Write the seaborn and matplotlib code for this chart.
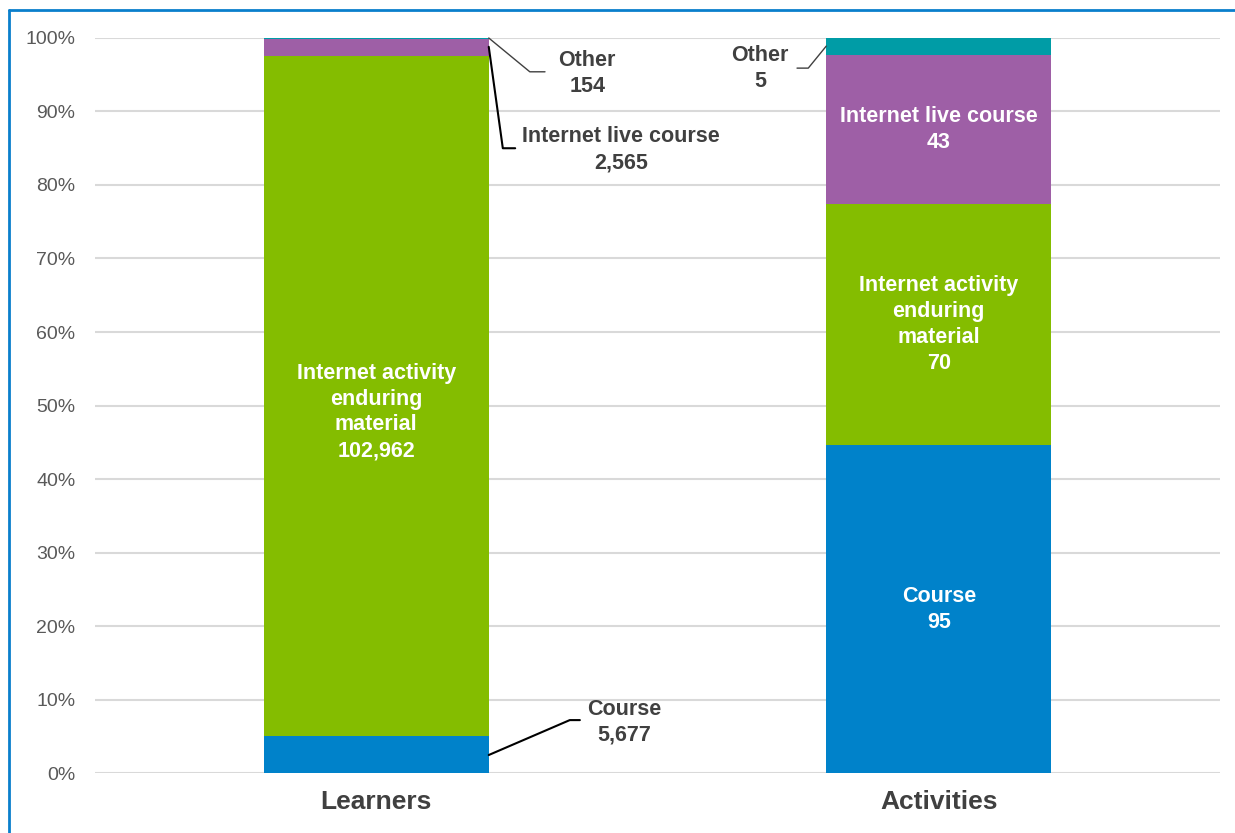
import numpy as np
import pandas as pd
import matplotlib
matplotlib.use('Agg')
import matplotlib.pyplot as plt
import seaborn as sns
from matplotlib.lines import Line2D

# data
groups = ['Learners', 'Activities']
segments = ['Course', 'Internet activity\nenduring\nmaterial', 'Internet live course', 'Other']
learners = [5677, 102962, 2565, 154]
activities = [95, 70, 43, 5]
colors = ['#0082CA', '#84BD00', '#9E5FA6', '#009CA6']

counts = pd.DataFrame({'Learners': learners, 'Activities': activities}, index=segments)
pct = counts / counts.sum() * 100
cum = pct.cumsum()

sns.set_style('white')
plt.rcParams['font.family'] = ['Liberation Sans', 'DejaVu Sans']

fig = plt.figure(figsize=(12.35, 8.33), dpi=100)
ax = fig.add_axes([0.0769, 0.072, 0.911, 0.8824])

# stacked bars: draw cumulative totals from the top segment down
for i in reversed(range(len(segments))):
    sns.barplot(x=groups, y=cum.iloc[i].values, color=colors[i], width=0.4,
                saturation=1, ax=ax, zorder=3, linewidth=0)

ax.set_xlim(-0.5, 1.5)
ax.set_ylim(0, 100)
ax.set_yticks(np.arange(0, 101, 10))
ax.set_yticklabels([f'{v}%' for v in range(0, 101, 10)], fontsize=14, color='#595959')
ax.tick_params(axis='y', length=0, pad=14)
ax.tick_params(axis='x', length=0, pad=12)
for lab in ax.get_xticklabels():
    lab.set_fontsize(19)
    lab.set_fontweight('bold')
    lab.set_color('#404040')
ax.grid(axis='y', color='#D9D9D9', linewidth=1.5, zorder=0)
ax.set_axisbelow(True)
for s in ax.spines.values():
    s.set_visible(False)
ax.set_xlabel('')
ax.set_ylabel('')

def fmt(v):
    return f'{v:,}'

fs = 15.5
ls = 1.3

# labels inside bars
mid = cum - pct / 2
inside = [('Learners', 1), ('Activities', 0), ('Activities', 1), ('Activities', 2)]
for g, i in inside:
    x = groups.index(g)
    y = mid[g].iloc[i]
    if g == 'Learners':
        y -= 2.2
    ax.text(x, y, segments[i] + '\n' + fmt(counts[g].iloc[i]),
            ha='center', va='center', color='white', fontsize=fs,
            fontweight='bold', linespacing=ls, zorder=5)

dark = '#404040'
w = 0.2

# Learners - Other
ax.plot([w, 0.273, 0.30], [100, 95.4, 95.4], color='#404040', lw=1, zorder=4, clip_on=False)
ax.text(0.375, 95.2, 'Other\n' + fmt(learners[3]), ha='center', va='center',
        color=dark, fontsize=fs, fontweight='bold', linespacing=ls)
# Learners - Internet live course
ax.plot([w, 0.225, 0.247], [98.8, 85.0, 85.0], color='black', lw=1.5, zorder=4)
ax.text(0.435, 84.8, 'Internet live course\n' + fmt(learners[2]), ha='center', va='center',
        color=dark, fontsize=fs, fontweight='bold', linespacing=ls)
# Learners - Course
ax.plot([w, 0.344, 0.362], [2.45, 7.2, 7.2], color='black', lw=1.5, zorder=4)
ax.text(0.44, 6.9, 'Course\n' + fmt(learners[0]), ha='center', va='center',
        color=dark, fontsize=fs, fontweight='bold', linespacing=ls)
# Activities - Other
ax.plot([0.748, 0.768, 1 - w], [95.9, 95.9, 98.9], color='#404040', lw=1, zorder=4)
ax.text(0.682, 95.9, 'Other\n' + fmt(activities[3]), ha='center', va='center',
        color=dark, fontsize=fs, fontweight='bold', linespacing=ls)

# chart frame (top and left edges visible)
fig.add_artist(Line2D([0.0073, 1.0], [0.988, 0.988], transform=fig.transFigure,
                      color='#0A7FCC', lw=2))
fig.add_artist(Line2D([0.0073, 0.0073], [0.0, 0.988], transform=fig.transFigure,
                      color='#0A7FCC', lw=2))

fig.savefig('out.png', dpi=100)
